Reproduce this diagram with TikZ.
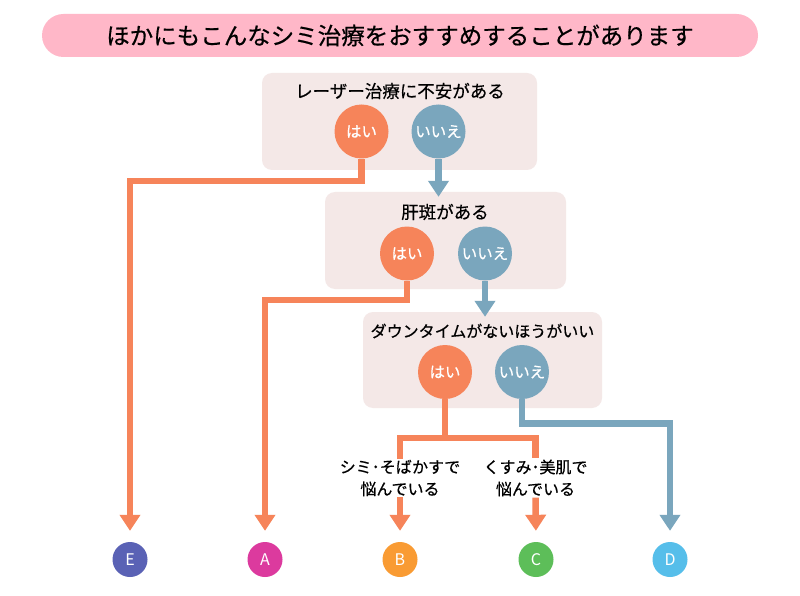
\documentclass[tikz,border=0pt]{standalone}
\usepackage{fontspec}
\setmainfont{Noto Sans CJK JP}
\newfontfamily\medfont[FakeBold=0.5]{Noto Sans CJK JP}
\usetikzlibrary{arrows.meta}
\definecolor{orng}{HTML}{F6845A}
\definecolor{blu}{HTML}{7AA6BD}
\definecolor{boxbg}{HTML}{F4E8E7}
\definecolor{pinkbar}{HTML}{FFB7C8}
\definecolor{cE}{HTML}{5A62B5}
\definecolor{cA}{HTML}{DC3A9E}
\definecolor{cB}{HTML}{F99B33}
\definecolor{cC}{HTML}{5DBE59}
\definecolor{cD}{HTML}{56BEEA}
\begin{document}
\begin{tikzpicture}[x=1pt,y=-1pt,
 qbox/.style={fill=boxbg, rounded corners=10pt, inner sep=0},
 qtext/.style={font=\medfont\fontsize{17.5}{20}\selectfont, inner sep=0, anchor=center},
 yesnode/.style={circle, fill=orng, minimum size=54pt, inner sep=0, text=white, font=\medfont\fontsize{15.5}{18}\selectfont},
 nonode/.style={yesnode, fill=blu},
 res/.style={circle, minimum size=35pt, inner sep=0, text=white, font=\fontsize{16}{18}\selectfont},
 oline/.style={draw=orng, line width=6.5pt},
 bline/.style={draw=blu, line width=6.5pt},
 tipped/.style={-{Triangle[width=20pt,length=16pt]}},
 lab/.style={align=center, font=\medfont\fontsize{16}{22}\selectfont, inner sep=1pt}
]
\useasboundingbox (0,0) rectangle (800,596);
\fill[white] (0,0) rectangle (800,596);

% title
\node[fill=pinkbar, rounded corners=21.5pt, minimum width=716pt, minimum height=43pt, inner sep=0,
  font=\medfont\fontsize{23.5}{26}\selectfont] (title) at (400,35.5) {ほかにもこんなシミ治療をおすすめすることがあります};

% question boxes
\node[qbox, minimum width=275pt, minimum height=97pt] (box1) at (399.5,121.5) {};
\node[qbox, minimum width=241pt, minimum height=97pt] (box2) at (445.5,240.5) {};
\node[qbox, minimum width=239pt, minimum height=96pt] (box3) at (482.5,360) {};

\node[qtext] (q1) at (400,91) {レーザー治療に不安がある};
\node[qtext] (q2) at (445,212) {肝斑がある};
\node[qtext, font=\medfont\fontsize{16}{20}\selectfont] (q3) at (482.5,331) {ダウンタイムがないほうがいい};

% answer circles
\node[yesnode] (yes1) at (361.5,131.5) {はい};
\node[nonode] (no1) at (438.5,131.5) {いいえ};
\node[yesnode] (yes2) at (407,253.5) {はい};
\node[nonode] (no2) at (485,253.5) {いいえ};
\node[yesnode] (yes3) at (445,372) {はい};
\node[nonode] (no3) at (522,372) {いいえ};

% results
\node[res, fill=cE] (E) at (130,559.5) {E};
\node[res, fill=cA] (A) at (265,559.5) {A};
\node[res, fill=cB] (B) at (400,559.5) {B};
\node[res, fill=cC] (C) at (536,559.5) {C};
\node[res, fill=cD] (D) at (670,559.5) {D};

% labels
\node[lab] (lB) at (400,478) {シミ･そばかすで\\悩んでいる};
\node[lab] (lC) at (535.5,478) {くすみ･美肌で\\悩んでいる};

% corner points
\coordinate (kE) at (130,181);
\coordinate (kA) at (265,300);
\coordinate (kBC) at (444.5,438);
\coordinate (kD) at (670,423.5);

% connectors
\draw[oline, tipped, shorten >=11pt] (yes1.south) |- (kE) -- (E.north);
\draw[bline, tipped, shorten >=-5pt] (no1.south) -- (no1.south |- box2.north);
\draw[oline, tipped, shorten >=11pt] (yes2.south) |- (kA) -- (A.north);
\draw[bline, tipped, shorten >=-5pt] (no2.south) -- (no2.south |- box3.north);
\draw[oline] (yes3.south) -- (yes3.south |- kBC);
\draw[oline] (lB.north) |- (kBC) -| (lC.north);
\draw[oline, tipped, shorten >=11pt] (lB.south) -- (B.north);
\draw[oline, tipped, shorten >=11pt] (lC.south) -- (C.north);
\draw[bline, tipped, shorten >=11pt] (no3.south) |- (kD) -- (D.north);
\end{tikzpicture}
\end{document}
